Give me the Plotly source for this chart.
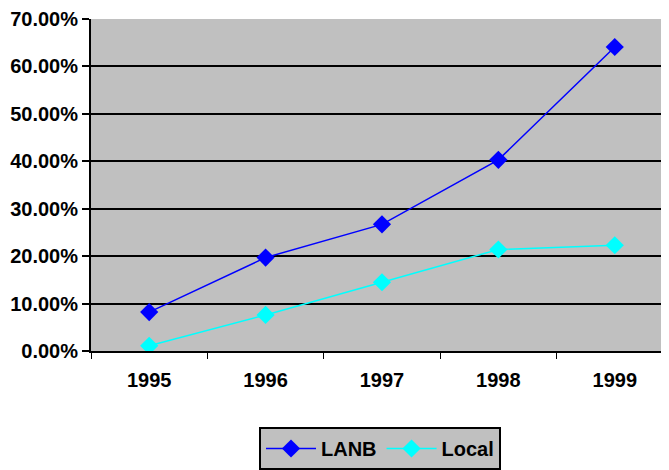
import plotly.graph_objects as go

years = ["1995", "1996", "1997", "1998", "1999"]
lanb = [0.082, 0.197, 0.267, 0.403, 0.641]
local = [0.011, 0.076, 0.145, 0.214, 0.223]
y_ticks = [0, 0.1, 0.2, 0.3, 0.4, 0.5, 0.6, 0.7]

FONT = "Arial, Liberation Sans, sans-serif"

fig = go.Figure()
fig.add_trace(go.Scatter(x=years, y=lanb, name="LANB", mode="lines+markers",
                         line=dict(color="#0000FF", width=1.5),
                         marker=dict(symbol="diamond", size=14, color="#0000FF")))
fig.add_trace(go.Scatter(x=years, y=local, name="Local", mode="lines+markers",
                         line=dict(color="#00FFFF", width=1.5),
                         marker=dict(symbol="diamond", size=14, color="#00FFFF")))

fig.update_layout(
    width=661, height=462,
    margin=dict(l=83, r=0, t=11, b=118),
    paper_bgcolor="white", plot_bgcolor="#C0C0C0",
    font=dict(family=FONT, size=20, color="black"),
    showlegend=True,
    legend=dict(orientation="h", x=0.5, xanchor="center", y=-0.228, yanchor="top",
                bgcolor="#C0C0C0", bordercolor="black", borderwidth=2,
                font=dict(family=FONT, size=20, color="black", weight="bold"),
                itemwidth=50, tracegroupgap=0),
)
fig.update_xaxes(type="category", range=[-0.5, 4.466], tickson="boundaries",
                 ticks="outside", ticklen=6, tickwidth=1, tickcolor="black",
                 showgrid=False, showline=True, linecolor="black", linewidth=2,
                 ticklabelstandoff=10,
                 tickfont=dict(family=FONT, size=20, weight="bold"))
fig.update_yaxes(range=[0, 0.7], tickvals=y_ticks, tickformat=".2%",
                 ticks="outside", ticklen=7, tickwidth=2, tickcolor="black",
                 showgrid=True, gridcolor="black", gridwidth=2,
                 showline=True, linecolor="black", linewidth=2, zeroline=False,
                 tickfont=dict(family=FONT, size=20, weight="bold"))

fig.write_html("out.html")
